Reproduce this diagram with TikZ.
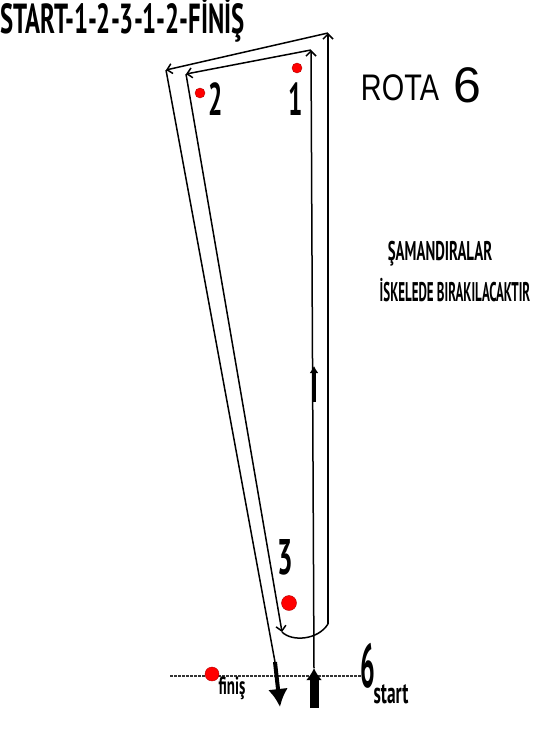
\documentclass[tikz,border=0pt]{standalone}
\usepackage{fontspec}
\setmainfont{Liberation Sans}
\newfontfamily\comicfont{PT Sans}
\usetikzlibrary{arrows.meta}

\begin{document}
\begin{tikzpicture}[x=1pt, y=-1pt,
    route/.style={line width=1.5pt},
    tip/.style={-{Straight Barb[length=5pt,width=10pt]}},
    buoy/.style={circle, fill=red, draw=red!70!black, inner sep=0pt},
    buoynum/.style={font=\comicfont\bfseries, inner sep=0pt},
    comic/.style={font=\comicfont\bfseries, inner sep=0pt}]
  \useasboundingbox[fill=white] (0,0) rectangle (551,734);

  % corners of the course
  \coordinate (startFoot) at (314,708);
  \coordinate (startIn) at (314,668);
  \coordinate (topIn) at (311,50);
  \coordinate (leftIn) at (186,74);
  \coordinate (turnIn) at (282,632);
  \coordinate (turnOut) at (328,624);
  \coordinate (topOut) at (328,33);
  \coordinate (leftOut) at (166,70);
  \coordinate (finOut) at (275,662);
  \coordinate (finFoot) at (280,707);
  \coordinate (lineL) at (170,676);
  \coordinate (lineR) at (364,676);

  % start / finish line
  \draw[gray!40!black, line width=2.5pt, dash pattern=on 2.5pt off 1.5pt] (lineL) -- (lineR);

  % course
  \draw[route, tip] (startIn) -- (topIn);
  \draw[route, tip] (topIn) -- (leftIn);
  \draw[route, tip] (leftIn) -- (turnIn);
  \draw[route] (turnIn) .. controls (292,642) and (318,640) .. (turnOut);
  \draw[route, tip] (turnOut) -- (topOut);
  \draw[route, tip] (topOut) -- (leftOut);
  \draw[route] (leftOut) -- (finOut);
  \draw[line width=3.5pt, -{Latex[length=7pt,width=9pt]}] (314,402) -- (314,366);

  % start and finish arrows
  \draw[line width=9pt, -{Latex[length=12pt,width=16pt]}] (startFoot) -- (startIn);
  \draw[line width=4pt, -{Latex[length=18pt,width=20pt]}] (finOut) -- (finFoot);

  % buoys
  \node[buoy, minimum size=10pt] (b1) at (297,68) {};
  \node[buoy, minimum size=10pt] (b2) at (200,93) {};
  \node[buoy, minimum size=15pt] (b3) at (289,603) {};
  \node[buoy, minimum size=14pt] (bf) at (212,674) {};
  \node[buoynum, font=\comicfont\bfseries\fontsize{46}{46}\selectfont] (n1) at (296,99) {\scalebox{0.55}[1]{1}};
  \node[buoynum, font=\comicfont\bfseries\fontsize{46}{46}\selectfont] (n2) at (216,99) {\scalebox{0.55}[1]{2}};
  \node[buoynum, font=\comicfont\bfseries\fontsize{50}{50}\selectfont] (n3) at (285,557) {\scalebox{0.55}[1]{3}};

  % labels
  \node[comic, anchor=west, font=\comicfont\bfseries\fontsize{42}{42}\selectfont] (title) at (0,20) {\scalebox{0.59}[1]{START-1-2-3-1-2-FİNİŞ}};
  \node[inner sep=0pt, font=\fontsize{37}{37}\selectfont] (rota) at (400,88) {\scalebox{0.78}[1]{ROTA}};
  \node[inner sep=0pt, font=\fontsize{50}{50}\selectfont] (rotanum) at (467,85) {6};
  \node[comic, font=\comicfont\bfseries\fontsize{27}{27}\selectfont] (note1) at (440,254) {\scalebox{0.55}[1]{ŞAMANDIRALAR}};
  \node[comic, font=\comicfont\bfseries\fontsize{27}{27}\selectfont] (note2) at (455,290) {\scalebox{0.48}[1]{İSKELEDE BIRAKILACAKTIR}};
  \node[comic, font=\comicfont\bfseries\fontsize{25}{25}\selectfont] (finis) at (232,688) {\scalebox{0.6}[1]{finiş}};
  \node[comic, font=\comicfont\bfseries\fontsize{62}{62}\selectfont] (sixmark) at (368,666) {\scalebox{0.42}[1]{6}};
  \node[comic, font=\comicfont\bfseries\fontsize{30}{30}\selectfont] (start) at (391,694) {\scalebox{0.58}[1]{start}};
\end{tikzpicture}
\end{document}
